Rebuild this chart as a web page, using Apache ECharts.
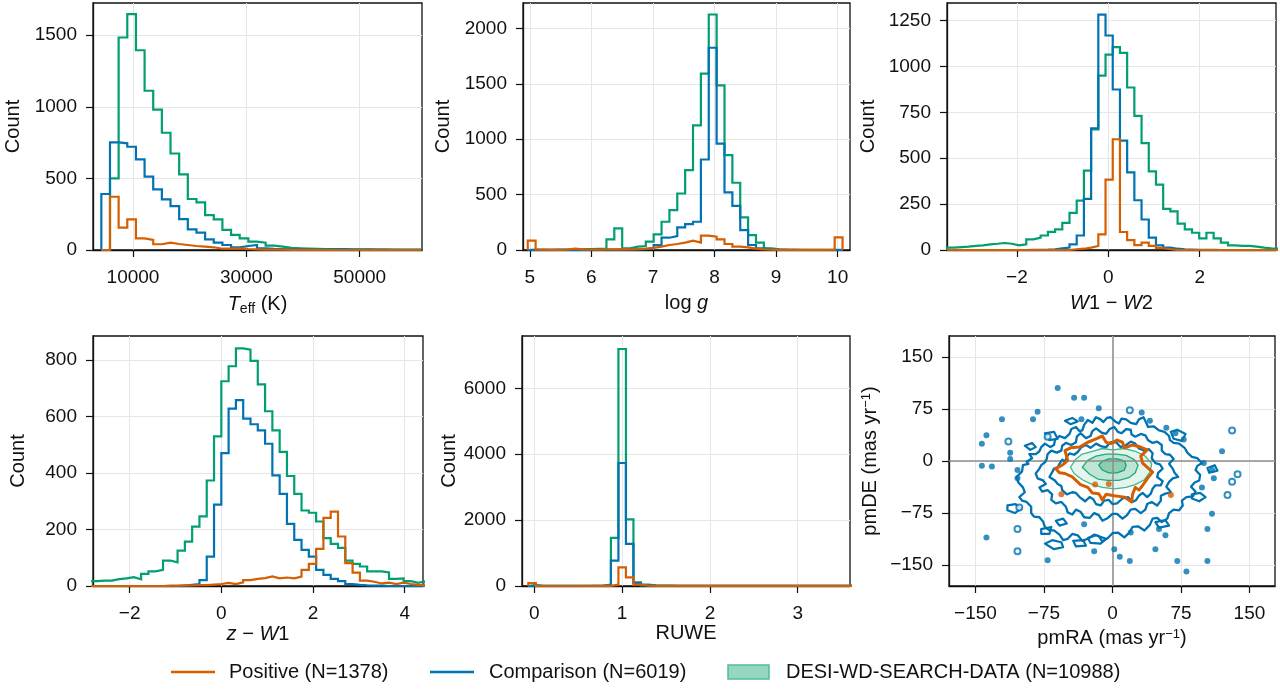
<!DOCTYPE html>
<html>
<head>
<meta charset="utf-8">
<script src="https://cdn.jsdelivr.net/npm/echarts@6/dist/echarts.min.js"></script>
<style>
  html, body { margin: 0; padding: 0; background: #fff; }
  #main { width: 1280px; height: 695px; }
</style>
</head>
<body>
<div id="main"></div>
<script>
// colours (colorblind palette)
var ORANGE = '#d55e00', BLUE = '#0173b2', GREEN = '#029e73';
var FONT = '"Liberation Sans", Arial, Helvetica, sans-serif';

// ---- Teff histogram: 37 bins, first edge 4412 K, width 1526 K
var teffStart = 4412, teffWidth = 1526;
var teffPos  = [0, 372, 156, 214, 81, 70, 40, 51, 42, 35, 28, 23, 19, 9, 9, 12, 7, 5, 3, 2, 2, 1, 1, 1, 1, 0, 0, 0, 0, 0, 0, 0, 0, 0, 0, 0, 0];
var teffComp = [391, 751, 745, 721, 633, 512, 423, 353, 307, 216, 144, 121, 74, 51, 35, 19, 28, 35, 12, 8, 6, 5, 4, 4, 3, 3, 5, 6, 3, 2, 3, 2, 2, 1, 1, 1, 1];
var teffDesi = [0, 500, 1484, 1647, 1395, 1112, 981, 819, 674, 528, 356, 333, 244, 214, 140, 105, 81, 58, 51, 30, 23, 15, 12, 10, 8, 7, 7, 6, 5, 4, 4, 3, 3, 3, 2, 2, 2];

// ---- log g histogram: 40 bins
var loggStart = 4.967, loggWidth = 0.1278;
var loggPos  = [84, 3, 2, 2, 3, 12, 6, 3, 4, 5, 6, 7, 6, 8, 12, 20, 30, 45, 54, 66, 84, 66, 129, 120, 96, 54, 30, 24, 12, 5, 3, 2, 1, 1, 1, 1, 1, 1, 2, 114];
var loggComp = [2, 1, 1, 1, 2, 2, 2, 3, 3, 4, 4, 4, 5, 6, 8, 15, 45, 111, 126, 204, 234, 255, 817, 1826, 961, 520, 399, 180, 45, 15, 5, 2, 1, 1, 0, 0, 0, 0, 0, 0];
var loggDesi = [1, 1, 2, 3, 4, 5, 6, 8, 10, 12, 96, 195, 15, 30, 36, 75, 141, 255, 360, 510, 721, 1126, 1592, 2126, 1486, 856, 607, 294, 135, 66, 15, 6, 3, 2, 2, 1, 1, 1, 1, 1];

// ---- W1-W2 histogram: 46 bins
var w12Start = -3.53, w12Width = 0.1577;
var w12Pos  = [0, 0, 0, 0, 0, 0, 0, 0, 0, 0, 0, 0, 0, 0, 0, 0, 0, 4, 7, 13, 22, 85, 383, 603, 98, 54, 27, 40, 22, 11, 4, 0, 0, 0, 0, 0, 0, 0, 0, 0, 0, 0, 0, 0, 0, 0];
var w12Comp = [0, 0, 0, 0, 0, 0, 0, 0, 0, 0, 0, 1, 1, 2, 4, 9, 13, 31, 79, 278, 663, 1282, 1168, 874, 596, 423, 271, 166, 67, 25, 13, 7, 3, 2, 1, 1, 1, 0, 0, 0, 0, 0, 0, 0, 0, 0];
var w12Desi = [13, 16, 18, 22, 25, 31, 34, 38, 34, 25, 31, 58, 67, 79, 99, 112, 148, 202, 269, 432, 657, 950, 1064, 1105, 1073, 885, 730, 582, 428, 356, 224, 210, 144, 112, 94, 63, 94, 63, 40, 25, 22, 22, 18, 13, 9, 7];

// ---- z-W1 histogram: 46 bins
var zw1Start = -2.864, zw1Width = 0.1591;
var zw1Pos  = [0, 0, 0, 0, 0, 0, 0, 0, 0, 0, 1, 1, 2, 2, 3, 3, 5, 7, 11, 7, 13, 21, 25, 28, 34, 27, 30, 27, 33, 57, 78, 131, 241, 263, 175, 81, 47, 19, 15, 9, 12, 7, 12, 7, 4, 2];
var zw1Comp = [0, 0, 0, 0, 0, 0, 0, 0, 0, 0, 0, 0, 1, 4, 7, 21, 104, 288, 470, 627, 657, 592, 572, 550, 503, 391, 326, 220, 163, 128, 104, 57, 39, 25, 17, 7, 4, 2, 1, 1, 0, 0, 0, 0, 0, 0];
var zw1Desi = [17, 19, 19, 24, 27, 31, 24, 43, 52, 57, 90, 84, 125, 157, 210, 246, 373, 529, 724, 777, 840, 836, 796, 713, 618, 550, 474, 389, 326, 267, 259, 228, 169, 149, 135, 90, 78, 69, 52, 52, 48, 25, 27, 17, 11, 17];

// ---- RUWE histogram: 44 bins
var ruweStart = -0.068, ruweWidth = 0.0855;
var ruwePos  = [91, 0, 0, 0, 0, 0, 0, 0, 1, 2, 5, 40, 568, 264, 40, 10, 5, 4, 3, 3, 2, 2, 2, 2, 2, 2, 2, 2, 2, 2, 2, 2, 2, 2, 1, 1, 1, 1, 1, 1, 1, 1, 1, 1];
var ruweComp = [10, 1, 1, 1, 1, 1, 1, 2, 3, 5, 20, 771, 3735, 1279, 91, 20, 10, 8, 6, 5, 4, 4, 3, 3, 3, 3, 3, 3, 3, 3, 3, 3, 2, 2, 2, 2, 2, 2, 2, 1, 1, 1, 1, 1];
var ruweDesi = [30, 2, 1, 1, 1, 2, 2, 3, 5, 10, 40, 1462, 7196, 2020, 112, 41, 20, 12, 10, 8, 7, 6, 5, 5, 4, 4, 3, 3, 3, 3, 2, 2, 2, 2, 2, 2, 1, 1, 1, 1, 1, 1, 1, 1];

// ---- proper-motion density contours (pmRA, pmDE in mas/yr)
var compRingOuter = [[-105,-23],[-99,-15],[-98,-6],[-92,-4],[-94,-1],[-88,4],[-91,10],[-84,10],[-80,14],[-78,20],[-74,25],[-68,20],[-64,23],[-63,30],[-58,36],[-52,33],[-47,39],[-45,46],[-40,49],[-36,43],[-33,44],[-31,52],[-27,59],[-22,55],[-18,63],[-13,60],[-10,56],[-6,62],[-2,63],[3,57],[7,54],[10,61],[15,60],[20,55],[26,53],[29,60],[34,63],[37,55],[39,49],[45,50],[51,44],[57,42],[62,36],[63,30],[67,26],[73,25],[79,19],[82,12],[87,6],[93,4],[98,-3],[93,-7],[91,-13],[96,-20],[95,-28],[90,-31],[86,-37],[91,-44],[88,-51],[81,-52],[76,-57],[77,-64],[73,-71],[67,-70],[62,-75],[60,-83],[54,-88],[49,-82],[44,-83],[41,-92],[35,-100],[28,-94],[22,-95],[18,-104],[13,-110],[6,-103],[0,-104],[-5,-111],[-11,-116],[-15,-108],[-20,-106],[-27,-112],[-33,-115],[-38,-107],[-44,-105],[-49,-112],[-54,-114],[-58,-106],[-64,-100],[-69,-100],[-74,-95],[-76,-87],[-80,-81],[-86,-80],[-89,-75],[-89,-66],[-94,-59],[-99,-57],[-102,-52],[-96,-45],[-98,-38],[-103,-31]];
var compRingMid = [[-84,-18],[-80,-11],[-78,-6],[-74,-2],[-72,3],[-71,10],[-67,15],[-61,12],[-56,15],[-55,22],[-51,26],[-45,23],[-40,27],[-39,35],[-35,40],[-29,33],[-24,36],[-22,43],[-18,47],[-12,41],[-7,39],[-3,46],[2,49],[6,42],[10,40],[15,46],[20,45],[21,38],[25,35],[31,39],[36,37],[39,30],[44,26],[49,28],[54,23],[54,15],[58,10],[63,9],[67,3],[62,-4],[66,-11],[68,-17],[72,-23],[66,-25],[62,-30],[59,-37],[64,-45],[58,-47],[53,-50],[53,-57],[49,-64],[43,-59],[38,-62],[36,-70],[31,-75],[25,-69],[20,-70],[16,-78],[11,-83],[5,-76],[0,-76],[-5,-82],[-11,-86],[-15,-78],[-20,-75],[-25,-82],[-31,-81],[-35,-73],[-40,-70],[-44,-77],[-49,-74],[-51,-66],[-56,-59],[-62,-61],[-67,-56],[-66,-48],[-71,-42],[-77,-44],[-80,-38],[-73,-33],[-76,-28],[-82,-25]];
var compRingInner = [[-69,-23],[-66,-16],[-64,-11],[-60,-9],[-58,-4],[-55,2],[-52,-1],[-50,6],[-47,11],[-42,9],[-38,13],[-34,20],[-29,23],[-24,19],[-18,25],[-12,21],[-7,20],[-2,27],[4,27],[9,20],[15,23],[20,28],[25,25],[29,18],[35,15],[40,17],[44,11],[43,4],[47,-3],[52,-5],[55,-11],[50,-17],[49,-23],[55,-29],[53,-35],[47,-35],[44,-40],[42,-47],[38,-52],[33,-46],[29,-50],[26,-56],[22,-59],[17,-52],[11,-54],[5,-61],[0,-62],[-4,-56],[-9,-57],[-13,-64],[-18,-62],[-21,-55],[-25,-52],[-30,-58],[-36,-52],[-40,-46],[-44,-45],[-50,-48],[-55,-42],[-56,-36],[-60,-33],[-63,-28]];
var compIslands = [
  [[64,42],[71,45],[80,39],[76,29],[67,32]],
  [[-27,-111],[-18,-107],[-7,-112],[-13,-119],[-24,-118]],
  [[-115,-64],[-106,-62],[-100,-69],[-107,-75],[-115,-71]],
  [[-74,-119],[-66,-114],[-56,-117],[-54,-124],[-64,-127]],
  [[-78,-98],[-67,-95],[-69,-105],[-78,-105]],
  [[87,-48],[96,-46],[102,-52],[95,-58],[87,-54]],
  [[47,-88],[58,-85],[62,-93],[51,-96]],
  [[-43,-115],[-32,-114],[-29,-122],[-40,-123]],
  [[-74,40],[-64,42],[-60,32],[-69,30]],
  [[-96,22],[-88,26],[-84,20],[-90,16]],
  [[-52,58],[-44,62],[-38,57],[-46,53]],
  [[104,-10],[112,-6],[115,-14],[106,-17]],
  [[-62,-86],[-54,-83],[-50,-90],[-58,-93]]
];
var compDots = [[-60,105],[-42,91],[-31,91],[-15,76],[32,70],[41,58],[-82,71],[-121,60],[-87,60],[-34,60],[59,48],[-138,37],[-143,25],[78,31],[69,40],[120,14],[-143,-7],[-132,-8],[-112,12],[-112,3],[-104,-13],[-104,-25],[109,-13],[100,-3],[111,-25],[98,-38],[109,-76],[104,-98],[-138,-110],[-71,-143],[-31,-91],[-20,-130],[8,-138],[19,-144],[2,-127],[47,-127],[71,-144],[104,-144],[81,-159],[58,-107],[51,-98],[20,-103]];
var compRings = [[19,73],[131,44],[-114,28],[-71,35],[137,-19],[131,-30],[126,-49],[-102,-67],[-104,-98],[-104,-130]];
var posRing = [[-62,-11],[-54,-5],[-49,1],[-52,15],[-46,19],[-36,20],[-27,27],[-18,32],[-11,36],[-7,27],[-2,25],[5,30],[11,27],[13,19],[22,23],[29,21],[38,16],[31,7],[33,-3],[44,-16],[39,-24],[33,-35],[29,-42],[25,-38],[22,-48],[21,-59],[13,-52],[2,-50],[-7,-48],[-11,-56],[-15,-47],[-22,-46],[-27,-38],[-35,-34],[-44,-23],[-52,-18],[-58,-17]];
var posDots = [[-56,-48],[-19,-34],[-4,-33],[64,-49]];
var desiLevel1 = [[-46,-9],[-40,3],[-33,10],[-22,14],[-11,18],[0,16],[13,18],[25,14],[36,7],[43,-4],[41,-16],[35,-27],[25,-34],[15,-38],[2,-40],[-11,-38],[-22,-34],[-33,-27],[-42,-18]];
var desiLevel2 = [[-33,-9],[-27,1],[-18,7],[-7,10],[4,10],[15,8],[24,2],[28,-6],[25,-17],[18,-24],[7,-28],[-5,-28],[-16,-26],[-25,-19]];
var desiLevel3 = [[-15,-6],[-11,0],[-4,3],[5,3],[13,0],[15,-6],[13,-13],[5,-17],[-4,-17],[-11,-13]];

// ---- tick values
var teffTicks = [10000, 30000, 50000];
var loggTicks = [5, 6, 7, 8, 9, 10];
var w12Ticks = [-2, 0, 2];
var zw1Ticks = [-2, 0, 2, 4];
var ruweTicks = [0, 1, 2, 3];
var pmTicks = [-150, -75, 0, 75, 150];

// turn bin counts into a matplotlib-style "step" outline
function stepPoints(start, width, counts) {
  var pts = [[start, 0]];
  for (var i = 0; i < counts.length; i++) {
    pts.push([start + i * width, counts[i]]);
    pts.push([start + (i + 1) * width, counts[i]]);
  }
  pts.push([start + counts.length * width, 0]);
  return pts;
}

function fmt(v) { return String(v).replace('-', '\u2212'); }

var rich = {
  i: { fontStyle: 'italic', fontSize: 20, fontFamily: FONT, color: '#111' },
  r: { fontSize: 20, fontFamily: FONT, color: '#111' },
  s: { fontSize: 14, fontFamily: FONT, color: '#111', verticalAlign: 'bottom', padding: [9, 0, 0, 0] },
  u: { fontSize: 13, fontFamily: FONT, color: '#111', verticalAlign: 'top', padding: [0, 0, 8, 0] }
};

function axis(i, min, max, ticks, name, gap, margin) {
  return {
    type: 'value', gridIndex: i, min: min, max: max,
    name: name, nameLocation: 'middle', nameGap: gap,
    nameTextStyle: { fontSize: 20, fontFamily: FONT, color: '#111', rich: rich },
    axisLine: { show: true, onZero: false, lineStyle: { color: '#111', width: 1.3 } },
    axisTick: { show: true, length: 7, customValues: ticks, lineStyle: { color: '#111', width: 1.2 } },
    axisLabel: { customValues: ticks, fontSize: 19, fontFamily: FONT, color: '#111', margin: margin, formatter: fmt },
    splitLine: { show: true, lineStyle: { color: '#e6e6e6', width: 1 } }
  };
}

var grids = [
  { left: 93, top: 3, width: 329, height: 247 },
  { left: 523, top: 3, width: 327, height: 247 },
  { left: 947, top: 3, width: 329, height: 247 },
  { left: 93, top: 336, width: 330, height: 250 },
  { left: 522, top: 336, width: 328, height: 250 },
  { left: 949, top: 336, width: 326, height: 250 }
].map(function (g) {
  g.show = true; g.borderColor = '#111'; g.borderWidth = 1.3; g.backgroundColor = 'transparent';
  return g;
});

var xAxes = [
  axis(0, 2940, 61000, teffTicks, '{i|T}{s|eff}{r| (K)}', 43, 18),
  axis(1, 4.89, 10.2, loggTicks, '{r|log }{i|g}', 43, 18),
  axis(2, -3.53, 3.67, w12Ticks, '{i|W}{r|1 \u2212 }{i|W}{r|2}', 43, 18),
  axis(3, -2.80, 4.40, zw1Ticks, '{i|z}{r| \u2212 }{i|W}{r|1}', 38, 18),
  axis(4, -0.14, 3.595, ruweTicks, 'RUWE', 35, 18),
  axis(5, -179, 178, pmTicks, '{r|pmRA (mas yr}{u|\u22121}{r|)}', 42, 18)
];
var yAxes = [
  axis(0, 0, 1725, [0, 500, 1000, 1500], 'Count', 70, 16),
  axis(1, 0, 2230, [0, 500, 1000, 1500, 2000], 'Count', 70, 16),
  axis(2, 0, 1345, [0, 250, 500, 750, 1000, 1250], 'Count', 69, 16),
  axis(3, 0, 884, [0, 200, 400, 600, 800], 'Count', 65, 16),
  axis(4, 0, 7590, [0, 2000, 4000, 6000], 'Count', 58, 16),
  axis(5, -180, 180, pmTicks, '{r|pmDE (mas yr}{u|\u22121}{r|)}', 68, 16)
];

var series = [];
function hist(gi, start, width, counts, color) {
  series.push({
    type: 'line', xAxisIndex: gi, yAxisIndex: gi, data: stepPoints(start, width, counts),
    symbol: 'none', clip: true, silent: true,
    lineStyle: { color: color, width: 2.2, join: 'miter' }
  });
}
[[0, teffStart, teffWidth, teffDesi, teffComp, teffPos],
 [1, loggStart, loggWidth, loggDesi, loggComp, loggPos],
 [2, w12Start, w12Width, w12Desi, w12Comp, w12Pos],
 [3, zw1Start, zw1Width, zw1Desi, zw1Comp, zw1Pos],
 [4, ruweStart, ruweWidth, ruweDesi, ruweComp, ruwePos]].forEach(function (h) {
  hist(h[0], h[1], h[2], h[3], GREEN);
  hist(h[0], h[1], h[2], h[4], BLUE);
  hist(h[0], h[1], h[2], h[5], ORANGE);
});

// contour polygons drawn through the cartesian scales
function contour(pts, stroke, fill, lw, z) {
  series.push({
    type: 'custom', coordinateSystem: 'cartesian2d', xAxisIndex: 5, yAxisIndex: 5,
    data: pts, silent: true, z: z, clip: true,
    renderItem: function (params, api) {
      if (params.dataIndex !== 0) return;
      var p = pts.map(function (q) { return api.coord(q); });
      return {
        type: 'polygon', shape: { points: p },
        style: { fill: fill || 'none', stroke: stroke || 'none', lineWidth: lw, lineJoin: 'round' }
      };
    }
  });
}
contour(desiLevel1, '#3fb58c', '#e4f5ed', 1.3, 2);
contour(desiLevel2, '#21a87c', '#bfe6d4', 1.3, 3);
contour(desiLevel3, '#14a075', '#8ccfb0', 1.3, 4);
contour(compRingOuter, BLUE, null, 2.3, 5);
contour(compRingMid, BLUE, null, 2.3, 5);
contour(compRingInner, BLUE, null, 2.3, 5);
compIslands.forEach(function (isl) { contour(isl, BLUE, null, 2.2, 5); });
contour(posRing, ORANGE, null, 3, 7);

series.push({
  type: 'scatter', xAxisIndex: 5, yAxisIndex: 5, data: compDots, symbol: 'circle', symbolSize: 6,
  itemStyle: { color: BLUE }, silent: true, z: 5
});
series.push({
  type: 'scatter', xAxisIndex: 5, yAxisIndex: 5, data: compRings, symbol: 'circle', symbolSize: 6,
  itemStyle: { color: '#fff', borderColor: BLUE, borderWidth: 2 }, silent: true, z: 5
});
series.push({
  type: 'scatter', xAxisIndex: 5, yAxisIndex: 5, data: posDots, symbol: 'circle', symbolSize: 6,
  itemStyle: { color: ORANGE }, silent: true, z: 7,
  markLine: {
    silent: true, symbol: 'none', label: { show: false }, animation: false,
    lineStyle: { color: '#8c8c8c', width: 1.5, type: 'solid' },
    data: [{ xAxis: 0 }, { yAxis: 0 }]
  }
});

// legend (drawn as graphics to get the matplotlib look)
var legendY = 672;
var graphic = [
  { type: 'line', shape: { x1: 171, y1: legendY, x2: 215, y2: legendY }, style: { stroke: ORANGE, lineWidth: 2.6 } },
  { type: 'text', x: 229, y: legendY, style: { text: 'Positive (N=1378)', fontSize: 20, fontFamily: FONT, fill: '#111', verticalAlign: 'middle' } },
  { type: 'line', shape: { x1: 430, y1: legendY, x2: 474, y2: legendY }, style: { stroke: BLUE, lineWidth: 2.6 } },
  { type: 'text', x: 489, y: legendY, style: { text: 'Comparison (N=6019)', fontSize: 20, fontFamily: FONT, fill: '#111', verticalAlign: 'middle' } },
  { type: 'rect', shape: { x: 728, y: legendY - 7, width: 41, height: 14 }, style: { fill: '#96d7c2', stroke: '#4fbd98', lineWidth: 1.5 } },
  { type: 'text', x: 786, y: legendY, style: { text: 'DESI-WD-SEARCH-DATA (N=10988)', fontSize: 20, fontFamily: FONT, fill: '#111', verticalAlign: 'middle' } }
];

var chart = echarts.init(document.getElementById('main'), null, { renderer: 'canvas' });
chart.setOption({
  animation: false,
  backgroundColor: '#fff',
  grid: grids,
  xAxis: xAxes,
  yAxis: yAxes,
  series: series,
  graphic: graphic
});
</script>
</body>
</html>
